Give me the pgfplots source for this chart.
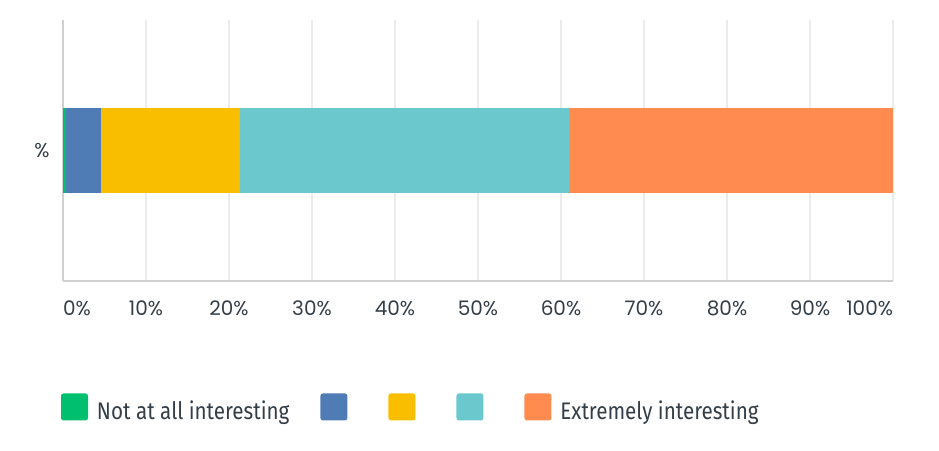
\documentclass[border=0pt]{standalone}
\usepackage{fontspec}
\usepackage{pgfplots}
\pgfplotsset{compat=1.18}
\newfontfamily\tickfont{Poppins}
\newfontfamily\legfont[FakeStretch=0.86]{Fira Sans}
\definecolor{smgreen}{HTML}{00BF6F}
\definecolor{smblue}{HTML}{507CB6}
\definecolor{smyellow}{HTML}{F9BE00}
\definecolor{smteal}{HTML}{6BC8CD}
\definecolor{smorange}{HTML}{FF8B4F}
\definecolor{labelgray}{HTML}{333E48}
\definecolor{gridgray}{HTML}{EBEBEB}
\definecolor{axisgray}{HTML}{D0D0D0}

\begin{document}
\begin{tikzpicture}
\useasboundingbox (0,0) rectangle (939pt,450pt);
\begin{axis}[
    at={(63pt,169pt)}, anchor=south west,
    scale only axis, width=830pt, height=261pt,
    xbar stacked, bar width=84pt,
    xmin=0, xmax=100, ymin=-1, ymax=1,
    axis x line*=bottom, axis y line*=left,
    axis line style={draw=axisgray, line width=1.5pt},
    xmajorgrids, grid style={draw=gridgray, line width=1.5pt},
    major tick length=0pt,
    xtick={0,10,...,100},
    xticklabels={\rlap{0\%},10\%,20\%,30\%,40\%,50\%,60\%,70\%,80\%,90\%,\llap{100\%}},
    xticklabel style={font=\tickfont\fontsize{20}{24}\selectfont, text=labelgray, yshift=-16pt},
    ytick={0}, yticklabels={\%},
    yticklabel style={font=\tickfont\fontsize{20}{24}\selectfont, text=labelgray, xshift=-10pt},
    legend columns=5,
    legend style={at={(0,0)}, anchor=west, xshift=-2pt, yshift=-126pt,
        draw=none, inner sep=0pt, outer sep=0pt,
        font=\legfont\fontsize{24}{28}\selectfont, text=labelgray,
        nodes={inner sep=0pt},
        /tikz/every odd column/.append style={column sep=9pt},
        /tikz/every even column/.append style={column sep=31pt}},
    legend image code/.code={\fill[#1,draw=none,rounded corners=2.5pt] (0pt,-10pt) rectangle (27pt,17pt);},
]
\addplot[fill=smgreen, draw=none] coordinates {(0.4,0)};
\addlegendentry{Not at all interesting}
\addplot[fill=smblue, draw=none] coordinates {(4.2,0)};
\addlegendentry{\mbox{}}
\addplot[fill=smyellow, draw=none] coordinates {(16.7,0)};
\addlegendentry{\mbox{}}
\addplot[fill=smteal, draw=none] coordinates {(39.7,0)};
\addlegendentry{\mbox{}}
\addplot[fill=smorange, draw=none] coordinates {(39.0,0)};
\addlegendentry{Extremely interesting}
\end{axis}
\end{tikzpicture}
\end{document}
